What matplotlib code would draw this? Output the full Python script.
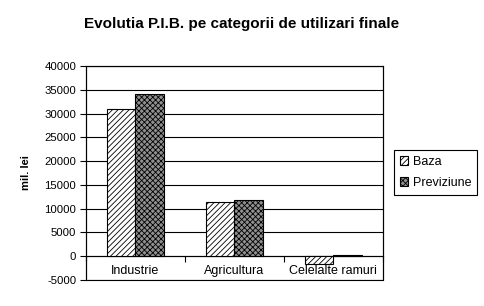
import matplotlib
matplotlib.use('Agg')
import matplotlib.pyplot as plt
import numpy as np
from matplotlib.patches import Rectangle

categories = ['Industrie', 'Agricultura', 'Celelalte ramuri']
baza = [31000, 11400, -1600]
previziune = [34100, 11900, 250]
yticks = list(range(-5000, 40001, 5000))

plt.rcParams['font.family'] = ['Liberation Sans', 'DejaVu Sans']
plt.rcParams['hatch.linewidth'] = 0.6

fig = plt.figure(figsize=(4.84, 3.06), dpi=100)
ax = fig.add_axes([0.1777, 0.085, 0.613, 0.699])

x = np.arange(len(categories))
w = 0.29
ax.bar(x - w / 2, baza, w, facecolor='white', edgecolor='black',
       hatch='//////', linewidth=0.8, label='Baza', zorder=3)
ax.bar(x + w / 2, previziune, w, facecolor='#909090', edgecolor='black',
       hatch='xxxxxx', linewidth=0.8, label='Previziune', zorder=3)

ax.set_xlim(-0.5, len(categories) - 0.5)
ax.set_ylim(-5000, 40000)
ax.set_yticks(yticks)
ax.set_yticklabels([str(v) for v in yticks], fontsize=8.2)
ax.yaxis.grid(True, color='black', linewidth=0.8)
ax.set_axisbelow(True)
ax.tick_params(axis='y', direction='out', length=4, width=0.8, pad=3)

# category axis crosses at zero
ax.spines['bottom'].set_position(('data', 0))
ax.spines['bottom'].set_linewidth(0.8)
ax.set_xticks(x)
ax.set_xticklabels(categories, fontsize=9)
ax.set_xticks(np.arange(len(categories) + 1) - 0.5, minor=True)
ax.tick_params(axis='x', which='major', length=0, pad=6)
ax.tick_params(axis='x', which='minor', direction='out', length=4, width=0.8)
for s in ['top', 'right', 'left']:
    ax.spines[s].set_linewidth(0.8)
ax.add_patch(Rectangle((0, 0), 1, 1, transform=ax.transAxes, fill=False,
                       edgecolor='black', linewidth=0.8, clip_on=False, zorder=5))

ax.set_ylabel('mil. lei', fontsize=8, fontweight='bold', labelpad=10)
fig.suptitle('Evolutia P.I.B. pe categorii de utilizari finale', fontsize=11,
             fontweight='bold', x=0.5, y=0.945)

leg = ax.legend(loc='upper left', bbox_to_anchor=(0.814, 0.51), bbox_transform=fig.transFigure,
                fontsize=9, fancybox=False, framealpha=1, edgecolor='black',
                handlelength=0.7, handleheight=0.7, handletextpad=0.35,
                borderpad=0.45, labelspacing=0.75, borderaxespad=0)
leg.get_frame().set_linewidth(0.8)

fig.savefig('out.png', dpi=100)
